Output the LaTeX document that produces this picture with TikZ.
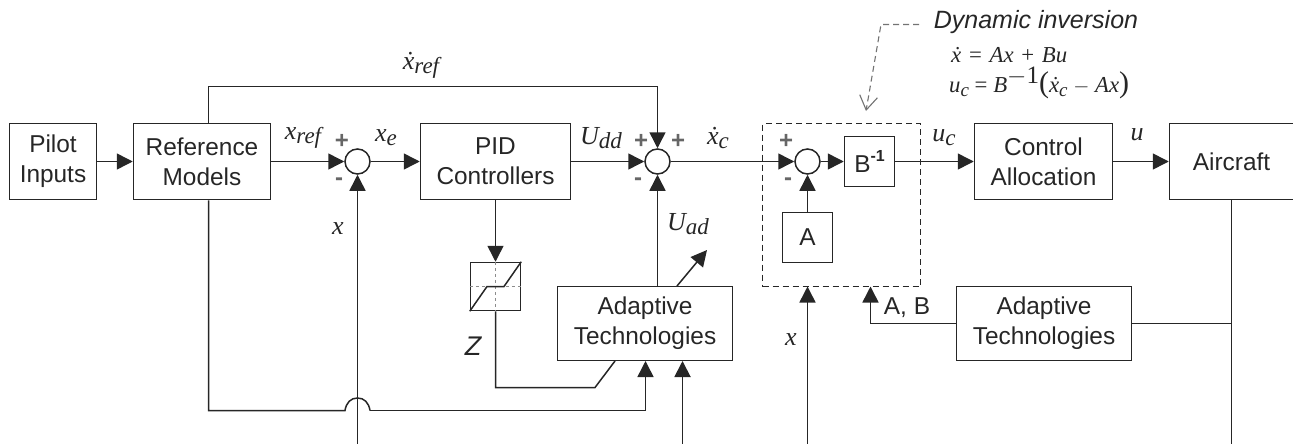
\documentclass[tikz,border=0pt]{standalone}
\usepackage{fontspec}
\usetikzlibrary{arrows.meta}
\setmainfont{Liberation Sans}
\newfontfamily\serf{Liberation Serif}
\newcommand{\mv}[2]{{\serf\itshape\fontsize{26}{26}\selectfont #1\raisebox{-.16em}{\fontsize{23}{23}\selectfont #2}}}
\newcommand{\eqv}[2]{#1\raisebox{-.18em}{\fontsize{19}{19}\selectfont #2}}
\tikzset{
  base/.style={line width=1.5pt,draw=black!85},
  arr/.style={base,-{Triangle[length=16pt,width=16pt]}},
  wire/.style={base},
  blk/.style={base,rectangle,inner sep=0pt,align=center,font=\fontsize{24.4}{30}\selectfont,text=black!85},
  sumj/.style={base,circle,fill=white,minimum size=25pt,inner sep=0pt},
  sgn/.style={inner sep=0pt,text=black!60,font=\bfseries\fontsize{24}{24}\selectfont},
  sym/.style={inner sep=0pt,text=black!85},
  lab/.style={inner sep=0pt,text=black!85,font=\fontsize{24.4}{28}\selectfont},
  note/.style={line width=1.1pt,draw=black!55,dash pattern=on 6pt off 4pt},
  eqn/.style={sym,anchor=west,font=\fontsize{22.8}{24}\selectfont\serf},
}
\begin{document}
\begin{tikzpicture}[x=1pt,y=-1pt]
\useasboundingbox (0,0) rectangle (1293,444);
% dashed inversion box
\node[base,dash pattern=on 6pt off 4pt,rectangle,inner sep=0pt,minimum width=158pt,minimum height=163pt] (dyn) at (841.5,205) {};
% blocks
\node[blk,minimum width=87pt,minimum height=76pt] (pilot) at (53,161.5) {Pilot\\Inputs};
\node[blk,minimum width=137pt,minimum height=76pt] (ref) at (202,161.5) {Reference\\Models};
\node[sumj] (s1) at (357.5,161.5) {};
\node[blk,minimum width=150pt,minimum height=76pt] (pid) at (495.5,161.5) {PID\\Controllers};
\node[sumj] (s2) at (657.5,161.5) {};
\node[sumj] (s3) at (807.5,161.5) {};
\node[blk,minimum width=50pt,minimum height=50pt] (binv) at (869.5,161.5) {B\raisebox{.42em}{\fontsize{16}{16}\selectfont\bfseries -1}};
\node[blk,minimum width=50pt,minimum height=50pt] (amat) at (807.5,237.5) {A};
\node[blk,minimum width=138pt,minimum height=76pt] (ctrl) at (1043.5,161.5) {Control\\Allocation};
\node[blk,minimum width=124pt,minimum height=76pt] (air) at (1231.5,161.5) {Aircraft};
\node[blk,minimum width=175pt,minimum height=74pt] (ad1) at (645,323.5) {Adaptive\\Technologies};
\node[blk,minimum width=175pt,minimum height=74pt] (ad2) at (1044,323.5) {Adaptive\\Technologies};
\node[blk,minimum width=50pt,minimum height=48pt] (sat) at (495.5,286.5) {};
% saturation symbol
\draw[line width=.8pt,draw=black!45,dashed] (sat.north) -- (sat.south);
\draw[line width=.8pt,draw=black!45,dashed] (sat.west) -- (sat.east);
\draw[base] (sat.south west) -- (487,286.5) -- (504,286.5) -- (sat.north east);
% free ends
\coordinate (tl) at (208.5,86.5);
\coordinate (bl) at (208.5,410.5);
\coordinate (br1) at (345,410.5);
\coordinate (br2) at (370,410.5);
\coordinate (xb) at (357.5,444);
\coordinate (a1in) at (645.5,361);
\coordinate (a2in) at (682.5,361);
\coordinate (a2b) at (682.5,444);
\coordinate (z1) at (495.5,387.5);
\coordinate (z2) at (595,387.5);
\coordinate (z3) at (615,361);
\coordinate (tune0) at (677,286);
\coordinate (tune1) at (707,250);
\coordinate (dynin) at (807.5,286.5);
\coordinate (dynb) at (807.5,444);
\coordinate (abin) at (870.5,286.5);
\coordinate (airb) at (1231.5,444);
\coordinate (n0) at (919,24.5);
\coordinate (n1) at (881,24.5);
\coordinate (n2) at (866,111);
% connectors
\draw[arr] (pilot) -- (ref);
\draw[arr] (ref) -- (s1);
\draw[arr] (s1) -- (pid);
\draw[arr] (pid) -- (s2);
\draw[arr] (s2) -- (s3);
\draw[arr] (s3) -- (binv);
\draw[arr] (binv) -- (ctrl);
\draw[arr] (ctrl) -- (air);
\draw[arr] (ref.north -| tl) -- (tl) -| (s2);
\draw[arr] (ad1.north -| s2) -- (s2);
\draw[arr] (amat) -- (s3);
\draw[arr] (xb) -- (s1);
\draw[arr] (pid) -- (sat);
\draw[wire] (ref.south -| bl) -- (bl) -- (br1)
  .. controls (346.3,402.5) and (350.8,398) .. (357.5,398)
  .. controls (364.2,398) and (368.7,402.5) .. (br2);
\draw[arr] (br2) -| (a1in);
\draw[arr,line width=1.9pt] (a2b) -- (a2in);
\draw[wire] (sat) -- (z1) -- (z2) -- (z3);
\draw[arr] (tune0) -- (tune1);
\draw[arr] (dynb) -- (dynin);
\draw[wire] (air) -- (airb);
\draw[wire] (ad2) -- (ad2 -| air);
\draw[arr] (ad2) -| (abin);
\draw[note,-{Straight Barb[length=14pt,width=18pt]}] (n0) -- (n1) -- (n2);
% labels
\node[sym] (lxref) at (303,138) {\mv{x}{ref}};
\node[sym] (lxe) at (386,138) {\mv{x}{e}};
\node[sym] (lx1) at (338,231) {\mv{x}{}};
\node[sym] (lxdref) at (421,65) {\mv{\.x}{ref}};
\node[sym] (ludd) at (601,138) {\mv{U}{dd}};
\node[sym] (lxc) at (718,138) {\mv{\.x}{c}};
\node[sym] (luad) at (688,224) {\mv{U}{ad}};
\node[sym] (lx2) at (791,342) {\mv{x}{}};
\node[sym] (luc) at (944,138) {\mv{u}{c}};
\node[sym] (lu) at (1137,137) {\mv{u}{}};
\node[sgn] (p1) at (342,141) {+};
\node[sgn] (m1) at (339,182) {-};
\node[sgn] (p2) at (641,141) {+};
\node[sgn] (p3) at (678,141) {+};
\node[sgn] (m2) at (638,182) {-};
\node[sgn] (p4) at (786,141) {+};
\node[sgn] (m3) at (788,182) {-};
\node[lab,font=\itshape\fontsize{27}{28}\selectfont] (lz) at (473,346) {Z};
\node[lab] (lab) at (907,308) {A, B};
\node[lab,font=\itshape\fontsize{25}{28}\selectfont] (ldyn) at (1036,22) {Dynamic inversion};
\node[eqn] (eq1) at (951,55) {\textit{\.x}\hspace{2pt} = \hspace{2pt}\textit{Ax}\hspace{2pt} + \hspace{2pt}\textit{Bu}};
\node[eqn] (eq2) at (949,83) {\textit{\eqv{u}{c}} = \textit{B}\raisebox{.38em}{\fontsize{25}{25}\selectfont$-$1}\raisebox{-.03em}{\fontsize{30}{30}\selectfont(}\textit{\eqv{\.x}{c}} $-$ \textit{Ax}\raisebox{-.03em}{\fontsize{30}{30}\selectfont)}};
\end{tikzpicture}
\end{document}
